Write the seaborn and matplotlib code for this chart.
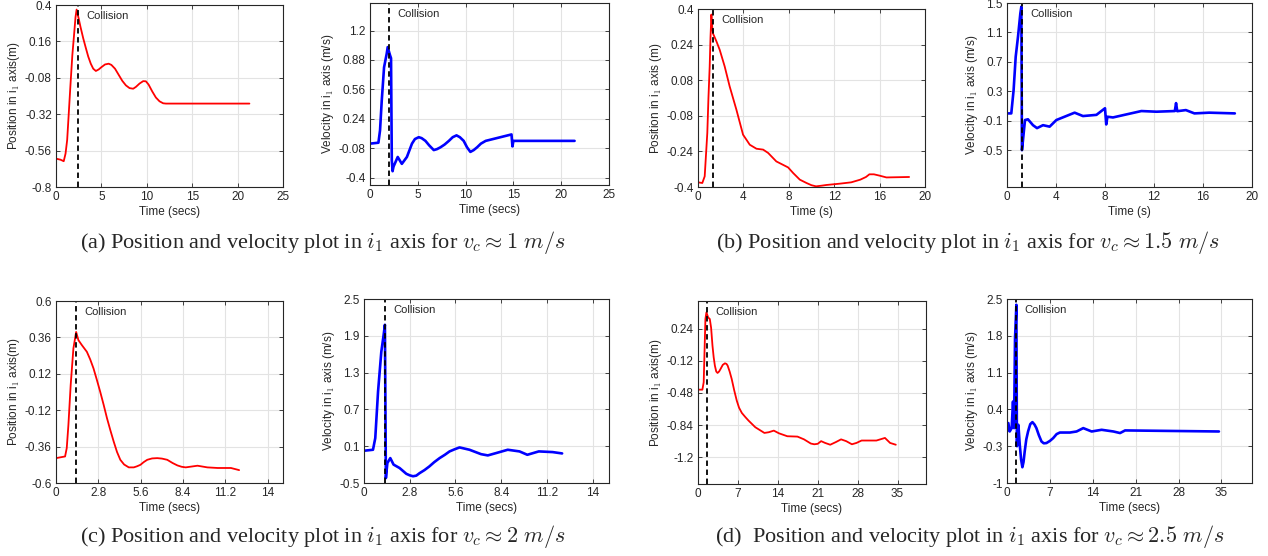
import matplotlib
matplotlib.use("Agg")
import matplotlib.pyplot as plt
import seaborn as sns

# ---- (a) v_c ~ 1 m/s ----
a_pos_t = [0, 0.5, 0.85, 1.05, 1.23, 1.4, 1.6, 1.8, 1.97, 2.15, 2.27, 2.5, 2.7, 3.0, 3.27,
           3.55, 3.83, 4.1, 4.39, 4.7, 5.0, 5.4, 5.8, 6.1, 6.5, 6.9, 7.3, 7.7, 8.1, 8.5, 8.8,
           9.2, 9.6, 9.9, 10.2, 10.6, 11.0, 11.4, 11.8, 12.1, 21.3]
a_pos_y = [-0.613, -0.62, -0.63, -0.58, -0.49, -0.32, -0.12, 0.07, 0.19, 0.32, 0.37, 0.31,
           0.255, 0.18, 0.12, 0.06, 0.013, -0.02, -0.035, -0.025, -0.01, 0.008, 0.013, 0.005,
           -0.02, -0.06, -0.10, -0.13, -0.148, -0.152, -0.14, -0.118, -0.102, -0.103, -0.125,
           -0.17, -0.21, -0.235, -0.248, -0.25, -0.25]
a_vel_t = [0, 0.88, 1.05, 1.23, 1.47, 1.75, 1.85, 2.1, 2.2, 2.28, 2.36, 2.46, 2.9, 3.33, 3.86,
           4.39, 4.7, 5.1, 5.4, 5.8, 6.2, 6.67, 7.0, 7.37, 7.8, 8.25, 8.65, 9.05, 9.4, 9.8,
           10.15, 10.5, 10.85, 11.2, 11.6, 12.1, 14.8, 14.9, 15.0, 21.4]
a_vel_y = [-0.03, -0.02, 0.115, 0.44, 0.80, 0.95, 1.02, 0.93, 0.9, -0.21, -0.33, -0.28, -0.175,
           -0.25, -0.175, -0.03, 0.02, 0.04, 0.03, 0.0, -0.05, -0.1, -0.09, -0.07, -0.04, 0.0,
           0.04, 0.06, 0.04, 0.0, -0.07, -0.12, -0.1, -0.07, -0.03, 0.0, 0.07, -0.06, 0.0, 0.0]
a_collision = 2.4

# ---- (b) v_c ~ 1.5 m/s ----
b_pos_t = [0, 0.38, 0.59, 0.82, 0.92, 1.03, 1.1, 1.18, 1.25, 1.32, 1.62, 1.91, 2.35, 2.79,
           3.38, 3.97, 4.3, 4.56, 5.15, 5.74, 6.18, 6.9, 7.94, 8.38, 8.97, 9.56, 10.0, 10.4,
           10.9, 11.3, 12.5, 13.5, 14.3, 14.8, 15.1, 15.5, 16.0, 16.6, 18.6]
b_pos_y = [-0.379, -0.382, -0.352, -0.157, 0.0, 0.142, 0.27, 0.375, 0.32, 0.29, 0.255, 0.217,
           0.142, 0.052, -0.052, -0.165, -0.19, -0.21, -0.228, -0.232, -0.247, -0.285, -0.312,
           -0.337, -0.367, -0.382, -0.392, -0.397, -0.394, -0.391, -0.385, -0.379, -0.367,
           -0.355, -0.343, -0.343, -0.349, -0.357, -0.355]
b_vel_t = [0, 0.35, 0.54, 0.71, 0.9, 1.09, 1.17, 1.22, 1.25, 1.36, 1.47, 1.71, 2.12, 2.45,
           2.94, 3.48, 4.03, 4.7, 5.52, 6.2, 7.3, 8.0, 8.1, 8.2, 8.65, 9.74, 10.97, 12.2,
           13.7, 13.8, 13.9, 14.6, 15.3, 16.5, 18.6]
b_vel_y = [0.0, 0.0, 0.318, 0.77, 1.045, 1.36, 1.45, -0.5, -0.455, -0.27, -0.09, -0.08,
           -0.16, -0.20, -0.16, -0.18, -0.09, -0.045, 0.01, -0.036, -0.02, 0.07, -0.15,
           -0.045, -0.055, -0.014, 0.032, 0.023, 0.032, 0.14, 0.03, 0.045, 0.0, 0.01, 0.0]
b_collision = 1.2

# ---- (c) v_c ~ 2 m/s ----
c_pos_t = [0, 0.6, 0.71, 0.82, 0.97, 1.15, 1.33, 1.48, 1.71, 2.04, 2.26, 2.48, 2.7, 2.92,
           3.15, 3.37, 3.6, 3.81, 4.03, 4.25, 4.5, 4.81, 5.14, 5.35, 5.58, 5.8, 6.03, 6.35,
           6.69, 7.0, 7.35, 7.7, 8.02, 8.3, 8.57, 9.35, 10.0, 10.68, 11.56, 12.1]
c_pos_y = [-0.436, -0.425, -0.37, -0.217, 0.046, 0.287, 0.396, 0.342, 0.309, 0.265, 0.215,
           0.155, 0.08, 0.002, -0.085, -0.173, -0.255, -0.326, -0.395, -0.447, -0.478, -0.497,
           -0.497, -0.49, -0.48, -0.462, -0.447, -0.438, -0.436, -0.439, -0.447, -0.468,
           -0.484, -0.493, -0.497, -0.486, -0.497, -0.501, -0.501, -0.515]
c_vel_t = [0, 0.55, 0.69, 0.86, 1.06, 1.2, 1.28, 1.34, 1.43, 1.61, 1.81, 2.18, 2.59, 2.8,
           3.0, 3.2, 3.4, 3.7, 4.0, 4.3, 4.63, 4.95, 5.24, 5.55, 5.85, 6.46, 7.17, 7.58, 8.09,
           8.8, 9.52, 10.0, 10.7, 11.55, 12.13]
c_vel_y = [0.026, 0.042, 0.232, 0.99, 1.64, 1.91, 2.08, -0.42, -0.175, -0.094, -0.20, -0.256,
           -0.35, -0.375, -0.39, -0.38, -0.34, -0.29, -0.23, -0.16, -0.094, -0.04, 0.015,
           0.05, 0.08, 0.042, -0.03, -0.05, -0.012, 0.042, 0.015, -0.04, 0.015, 0.004, -0.018]
c_collision = 1.3

# ---- (d) v_c ~ 2.5 m/s ----
d_pos_t = [0, 0.77, 1.0, 1.3, 1.48, 1.77, 2.07, 2.3, 2.54, 2.75, 2.96, 3.2, 3.43, 3.7, 3.96,
           4.35, 4.73, 5.0, 5.2, 5.55, 5.91, 6.35, 6.8, 7.2, 7.69, 8.3, 8.87, 10.05, 11.65,
           12.42, 13.3, 14.2, 15.67, 17.45, 18.6, 19.8, 20.4, 21.0, 21.6, 22.3, 23.2, 24.2,
           25.1, 26.0, 27.0, 27.8, 28.7, 31.3, 32.8, 33.7, 34.7]
d_pos_y = [-0.443, -0.443, -0.36, 0.348, 0.423, 0.367, 0.348, 0.25, 0.05, -0.08, -0.174,
           -0.24, -0.256, -0.24, -0.211, -0.165, -0.148, -0.155, -0.174, -0.24, -0.323, -0.45,
           -0.566, -0.645, -0.704, -0.75, -0.79, -0.864, -0.928, -0.92, -0.902, -0.932, -0.965,
           -0.969, -1.0, -1.047, -1.055, -1.05, -1.02, -1.04, -1.06, -1.03, -1.0, -1.02,
           -1.055, -1.04, -1.013, -1.013, -0.984, -1.04, -1.06]
d_vel_t = [0, 0.22, 0.44, 0.76, 0.98, 1.15, 1.31, 1.53, 1.62, 1.69, 1.86, 2.08, 2.3, 2.51,
           2.7, 2.89, 3.15, 3.44, 3.8, 4.15, 4.5, 4.8, 5.2, 5.63, 6.0, 6.44, 7.0, 7.54, 8.1,
           8.63, 10.27, 11.36, 12.45, 13.82, 15.45, 17.37, 18.46, 19.28, 34.6]
d_vel_y = [-0.02, 0.14, -0.02, 0.044, 0.55, 0.044, 1.75, 2.39, -0.3, -0.02, 0.107, -0.27,
           -0.55, -0.70, -0.6, -0.40, -0.17, -0.02, 0.12, 0.158, 0.11, 0.044, -0.09, -0.21,
           -0.245, -0.24, -0.2, -0.146, -0.07, -0.04, -0.04, -0.02, 0.044, -0.02, 0.012,
           -0.02, -0.05, 0.0, -0.02]
d_collision = 1.4

# tick labels
a_pos_yticks = [-0.8, -0.56, -0.32, -0.08, 0.16, 0.4]
a_vel_yticks = [-0.4, -0.08, 0.24, 0.56, 0.88, 1.2]
b_pos_yticks = [-0.4, -0.24, -0.08, 0.08, 0.24, 0.4]
b_vel_yticks = [-0.5, -0.1, 0.3, 0.7, 1.1, 1.5]
c_pos_yticks = [-0.6, -0.36, -0.12, 0.12, 0.36, 0.6]
c_vel_yticks = [-0.5, 0.1, 0.7, 1.3, 1.9, 2.5]
d_pos_yticks = [-1.2, -0.84, -0.48, -0.12, 0.24]
d_vel_yticks = [-1, -0.3, 0.4, 1.1, 1.8, 2.5]
xticks_a = [0, 5, 10, 15, 20, 25]
xticks_b = [0, 4, 8, 12, 16, 20]
xticks_c = [0, 2.8, 5.6, 8.4, 11.2, 14]
xticks_d = [0, 7, 14, 21, 28, 35]

captions = [
    r"(a) Position and velocity plot in $i_1$ axis for $v_c \approx 1\ m/s$",
    r"(b) Position and velocity plot in $i_1$ axis for $v_c \approx 1.5\ m/s$",
    r"(c) Position and velocity plot in $i_1$ axis for $v_c \approx 2\ m/s$",
    r"(d)  Position and velocity plot in $i_1$ axis for $v_c \approx 2.5\ m/s$",
]

sns.set_theme(style="whitegrid")
plt.rcParams["font.family"] = ["Liberation Sans", "DejaVu Sans"]
plt.rcParams["mathtext.fontset"] = "cm"

W, H = 1268, 556
fig = plt.figure(figsize=(W / 100, H / 100), dpi=100)
fig.patch.set_facecolor("white")


def box(l, r, t, b):
    return [l / W, 1 - b / H, (r - l) / W, (b - t) / H]


panels = [
    # (box, t, y, color, ylim, yticks, xlim, xticks, xlabel, ylabel, collision)
    (box(56, 283, 5, 187), a_pos_t, a_pos_y, "red", (-0.8, 0.4), a_pos_yticks, (0, 25), xticks_a,
     "Time (secs)", "Position in i$_1$ axis(m)", a_collision),
    (box(370, 609, 3, 185), a_vel_t, a_vel_y, "blue", (-0.48, 1.5), a_vel_yticks, (0, 25), xticks_a,
     "Time (secs)", "Velocity in i$_1$ axis (m/s)", a_collision - 0.45),
    (box(698, 925, 9, 187), b_pos_t, b_pos_y, "red", (-0.4, 0.4), b_pos_yticks, (0, 20), xticks_b,
     "Time (s)", "Position in i$_1$ axis (m)", b_collision + 0.15),
    (box(1007, 1252, 3, 187), b_vel_t, b_vel_y, "blue", (-1.0, 1.5), b_vel_yticks, (0, 20), xticks_b,
     "Time (s)", "Velocity in i$_1$ axis (m/s)", b_collision),
    (box(56, 283, 301, 483), c_pos_t, c_pos_y, "red", (-0.6, 0.6), c_pos_yticks, (0, 15), xticks_c,
     "Time (secs)", "Position in i$_1$ axis(m)", c_collision),
    (box(364, 609, 299, 483), c_vel_t, c_vel_y, "blue", (-0.5, 2.5), c_vel_yticks, (0, 15), xticks_c,
     "Time (secs)", "Velocity in i$_1$ axis (m/s)", c_collision),
    (box(698, 926, 301, 484), d_pos_t, d_pos_y, "red", (-1.5, 0.55), d_pos_yticks, (0, 40), xticks_d,
     "Time (secs)", "Position in i$_1$ axis(m)", d_collision + 0.1),
    (box(1007, 1252, 299, 483), d_vel_t, d_vel_y, "blue", (-1.0, 2.5), d_vel_yticks, (0, 40), xticks_d,
     "Time (secs)", "Velocity in i$_1$ axis (m/s)", d_collision),
]

edge = "#262626"
for rect, t, y, color, ylim, yticks, xlim, xticks, xlabel, ylabel, coll in panels:
    ax = fig.add_axes(rect)
    ax.set_facecolor("white")
    lw = 1.3 if color == "red" else 1.9
    sns.lineplot(x=t, y=y, ax=ax, color=color, linewidth=lw, sort=False, estimator=None)
    ax.axvline(coll, color="black", linestyle=(0, (3, 2)), linewidth=1.3)
    ax.annotate("Collision", xy=(coll, 0.94), xycoords=("data", "axes fraction"),
                xytext=(6, 0), textcoords="offset points", va="center", ha="left",
                fontsize=8, color=edge)
    ax.set_xlim(*xlim)
    ax.set_ylim(*ylim)
    ax.set_xticks(xticks)
    ax.set_xticklabels([f"{v:g}" for v in xticks])
    ax.set_yticks(yticks)
    ax.set_yticklabels([f"{v:g}" for v in yticks])
    ax.set_xlabel(xlabel, fontsize=8.5, color=edge, labelpad=2)
    ax.set_ylabel(ylabel, fontsize=8.5, color=edge, labelpad=2)
    ax.tick_params(axis="both", labelsize=8.5, colors=edge, direction="in", length=3,
                   width=0.6, top=True, right=True, bottom=True, left=True, pad=3)
    ax.grid(True, color="#e3e3e3", linewidth=0.8)
    for s in ax.spines.values():
        s.set_visible(True)
        s.set_color(edge)
        s.set_linewidth(0.8)

cap_kw = dict(fontsize=16, ha="center", va="center", family=["Liberation Serif", "DejaVu Serif"])
fig.text(323 / W, 1 - 243 / H, captions[0], **cap_kw)
fig.text(968 / W, 1 - 243 / H, captions[1], **cap_kw)
fig.text(323 / W, 1 - 537 / H, captions[2], **cap_kw)
fig.text(970 / W, 1 - 537 / H, captions[3], **cap_kw)

fig.savefig("out.png", dpi=100, facecolor="white")
